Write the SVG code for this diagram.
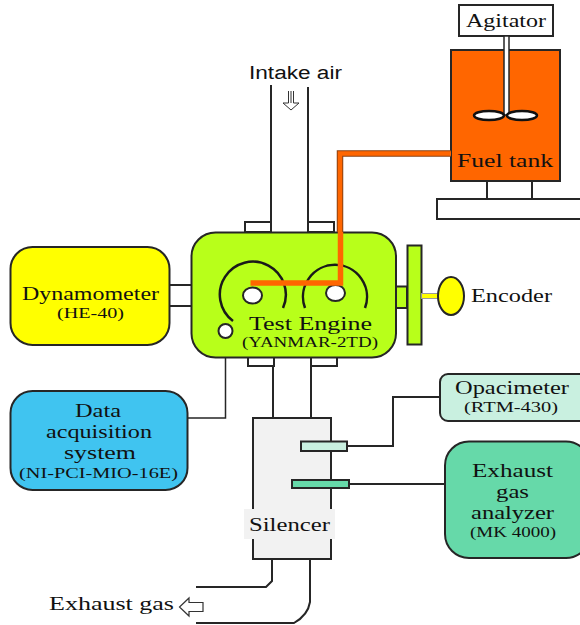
<svg xmlns="http://www.w3.org/2000/svg" width="580" height="625" viewBox="0 0 580 625">
<style>
.s{stroke:#262626;stroke-width:2;fill:none}
.b{stroke:#262626;stroke-width:2}
.w{fill:#fff}
.t{font-family:"Liberation Serif","Times New Roman",serif;fill:#111;text-anchor:start}
.l{font-size:19px}
.m{font-size:15px}
.a{font-family:"Liberation Sans",Arial,sans-serif;font-size:18px;fill:#111}
</style>
<rect width="580" height="625" fill="#fff"/>
<g id="connectors">
<path class="s" d="M271 85V222M308 87V222"/>
<path class="s" d="M170 285H192M170 306H192"/>
<path class="s" d="M273 366V418M311 366V418"/>
<path class="s" d="M272 559V581L266 587H196M310 559V602Q308 615 294 623H196"/>
<path class="s" d="M187 418H225.500V336" style="stroke-width:1.500"/>
<path class="s" d="M347 446H393V397H440"/>
<path class="s" d="M349 484H445"/>
<path class="s" d="M487 181V199M532 181V199"/>
</g>
<g id="intake-air">
<text class="a" x="249" y="79" textLength="93" lengthAdjust="spacingAndGlyphs">Intake air</text>
<path d="M288.500 91V103H283L291 110L299 103H293.500V91M291 91V103" fill="#fff" stroke="#333" stroke-width="1"/>
</g>
<g id="flanges">
<rect class="b w" x="245" y="222" width="26" height="10"/>
<rect class="b w" x="308" y="222" width="26" height="10"/>
<rect class="b w" x="248" y="357" width="26" height="9"/>
<rect class="b w" x="311" y="357" width="26" height="9"/>
</g>
<g id="agitator">
<rect class="b w" x="459" y="5" width="94" height="31"/>
<text class="t l" x="466" y="27" textLength="80" lengthAdjust="spacingAndGlyphs">Agitator</text>
</g>
<g id="fuel-tank">
<rect class="b" x="451" y="50" width="109" height="131" fill="#ff6600"/>
<rect class="b" x="504" y="36" width="5" height="79" fill="#fff" style="stroke-width:1.500"/>
<ellipse class="w" cx="489" cy="115.500" rx="15" ry="4.500" stroke="#111" stroke-width="2.500"/>
<ellipse class="w" cx="522" cy="115.500" rx="15" ry="4.500" stroke="#111" stroke-width="2.500"/>
<text class="t l" x="457" y="167" textLength="96" lengthAdjust="spacingAndGlyphs">Fuel tank</text>
<rect class="b w" x="437" y="199" width="150" height="20"/>
</g>
<g id="test-engine">
<rect class="b" x="191.500" y="232.500" width="204.500" height="125" rx="24" fill="#b8ff1a"/>
<path d="M233 321A33 33 0 1 1 283 308M305 308A32 32 0 1 1 365 308" fill="none" stroke="#1a1a1a" stroke-width="2.500"/>
<ellipse class="b w" cx="252.500" cy="295.500" rx="9.500" ry="8"/>
<ellipse class="b w" cx="335.500" cy="293" rx="9.500" ry="8"/>
<circle class="b w" cx="225.500" cy="331" r="7"/>
<text class="t l" x="249" y="330" textLength="123" lengthAdjust="spacingAndGlyphs">Test Engine</text>
<text class="t m" x="242" y="347" textLength="136" lengthAdjust="spacingAndGlyphs">(YANMAR-2TD)</text>
</g>
<g id="fuel-line">
<path d="M451 153.500H340V232" fill="none" stroke="#8a4010" stroke-width="6.500"/>
<path d="M451 153.500H340V232" fill="none" stroke="#ff6600" stroke-width="4.500"/>
<path d="M340.500 232V283H250.500" fill="none" stroke="#ff6600" stroke-width="5.500"/>
</g>
<g id="flywheel">
<rect class="b" x="396" y="286.500" width="11" height="21.500" fill="#b8ff1a"/>
<rect class="b" x="407.500" y="245.500" width="14" height="99" fill="#b8ff1a"/>
<rect x="421.500" y="293.500" width="17" height="5" fill="#ffff00" stroke="#999" stroke-width="1"/>
</g>
<g id="encoder">
<ellipse class="b" cx="451" cy="296" rx="13" ry="19" fill="#ffff00"/>
<text class="t l" x="471" y="302" textLength="81" lengthAdjust="spacingAndGlyphs">Encoder</text>
</g>
<g id="dynamometer">
<rect class="b" x="10.500" y="247" width="159" height="98" rx="22" fill="#ffff00"/>
<text class="t l" x="22" y="300" textLength="137" lengthAdjust="spacingAndGlyphs">Dynamometer</text>
<text class="t m" x="57" y="318" textLength="67" lengthAdjust="spacingAndGlyphs">(HE-40)</text>
</g>
<g id="data-acquisition">
<rect class="b" x="10.500" y="391" width="177" height="99" rx="22" fill="#40c4f0"/>
<text class="t l" x="75" y="417" textLength="46" lengthAdjust="spacingAndGlyphs">Data</text>
<text class="t l" x="46" y="438" textLength="106" lengthAdjust="spacingAndGlyphs">acquisition</text>
<text class="t l" x="64" y="459" textLength="72" lengthAdjust="spacingAndGlyphs">system</text>
<text class="t m" x="19" y="477.500" textLength="159" lengthAdjust="spacingAndGlyphs">(NI-PCI-MIO-16E)</text>
</g>
<g id="silencer">
<rect class="b" x="253" y="418" width="78" height="141" fill="#f2f2f2"/>
<rect x="244" y="509" width="91" height="30" fill="#f2f2f2"/>
<text class="t l" x="249" y="531" textLength="81" lengthAdjust="spacingAndGlyphs">Silencer</text>
<rect class="b" x="301" y="441.500" width="46" height="9.500" fill="#c9f0e0"/>
<rect class="b" x="292" y="480" width="57" height="8" fill="#66d9a9"/>
</g>
<g id="opacimeter">
<rect class="b" x="440" y="374" width="150" height="47" rx="8" fill="#c9f0e0"/>
<text class="t l" x="455" y="394" textLength="114" lengthAdjust="spacingAndGlyphs">Opacimeter</text>
<text class="t m" x="464" y="412" textLength="94" lengthAdjust="spacingAndGlyphs">(RTM-430)</text>
</g>
<g id="gas-analyzer">
<rect class="b" x="445" y="441.500" width="145" height="116.500" rx="24" fill="#66d9a9"/>
<text class="t l" x="472" y="476.500" textLength="81" lengthAdjust="spacingAndGlyphs">Exhaust</text>
<text class="t l" x="496" y="497.500" textLength="33" lengthAdjust="spacingAndGlyphs">gas</text>
<text class="t l" x="471" y="518.500" textLength="83" lengthAdjust="spacingAndGlyphs">analyzer</text>
<text class="t m" x="470" y="536.500" textLength="86" lengthAdjust="spacingAndGlyphs">(MK 4000)</text>
</g>
<g id="exhaust-gas">
<text class="t l" x="49" y="610" textLength="125" lengthAdjust="spacingAndGlyphs">Exhaust gas</text>
<path d="M203 602.500H189V598L179.500 607L189 616V611.500H203Z" fill="#fff" stroke="#333" stroke-width="1.200"/>
</g>
</svg>
